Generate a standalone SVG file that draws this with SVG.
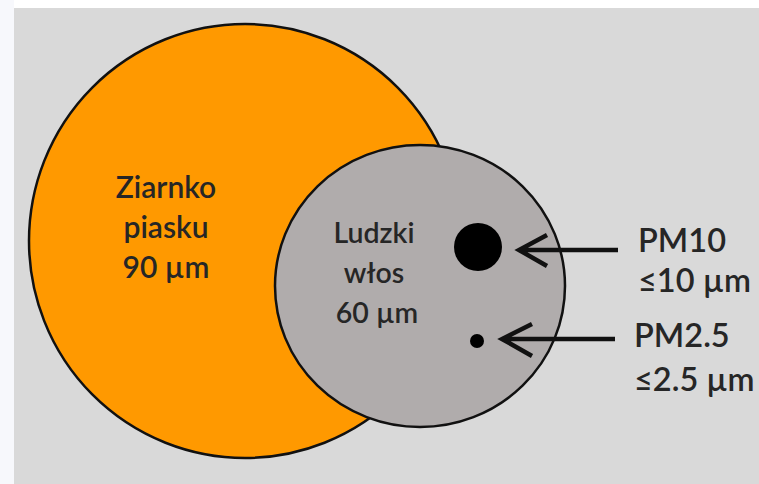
<svg xmlns="http://www.w3.org/2000/svg" width="759" height="484" viewBox="0 0 759 484">
<style>
.lbl{font-family:Lato,"Liberation Sans",sans-serif;fill:#262626;text-anchor:middle;font-weight:600}
.side{font-family:Lato,"Liberation Sans",sans-serif;fill:#262626;text-anchor:start;font-weight:600;font-size:32.5px}
.arr{fill:none;stroke:#111;stroke-width:4.5;stroke-linecap:butt;stroke-linejoin:miter}
</style>
<rect x="0" y="0" width="759" height="484" fill="#f7f8fc"/>
<rect x="14" y="0" width="745" height="8" fill="#ffffff"/>
<rect x="14" y="8" width="745" height="476" fill="#d9d9d9"/>
<g id="sand">
<ellipse cx="245" cy="241" rx="216" ry="217" fill="#ff9900" stroke="#111" stroke-width="2.5"/>
<text class="lbl" x="166" y="198" font-size="30">Ziarnko</text>
<text class="lbl" x="166" y="238" font-size="30">piasku</text>
<text class="lbl" x="166" y="278" font-size="30">90 µm</text>
</g>
<g id="hair">
<ellipse cx="420" cy="286" rx="145" ry="141" fill="#b0acac" stroke="#111" stroke-width="2.5"/>
<text class="lbl" x="374" y="243" font-size="28.5">Ludzki</text>
<text class="lbl" x="374" y="283" font-size="28.5">włos</text>
<text class="lbl" x="377" y="323" font-size="28.5">60 µm</text>
</g>
<g id="pm10">
<circle cx="478" cy="247" r="24" fill="#000"/>
<text class="side" x="638" y="252">PM10</text>
<text class="side" x="638" y="292">≤10 µm</text>
</g>
<g id="pm25">
<circle cx="477" cy="341" r="7" fill="#000"/>
<text class="side" x="634" y="347">PM2.5</text>
<text class="side" x="634" y="391">≤2.5 µm</text>
</g>
<g id="connectors">
<path class="arr" d="M618 250 H519 M547 235 L519 250 L547 266"/>
<path class="arr" d="M615 339 H502 M532 324 L502 339 L532 356"/>
</g>
</svg>
